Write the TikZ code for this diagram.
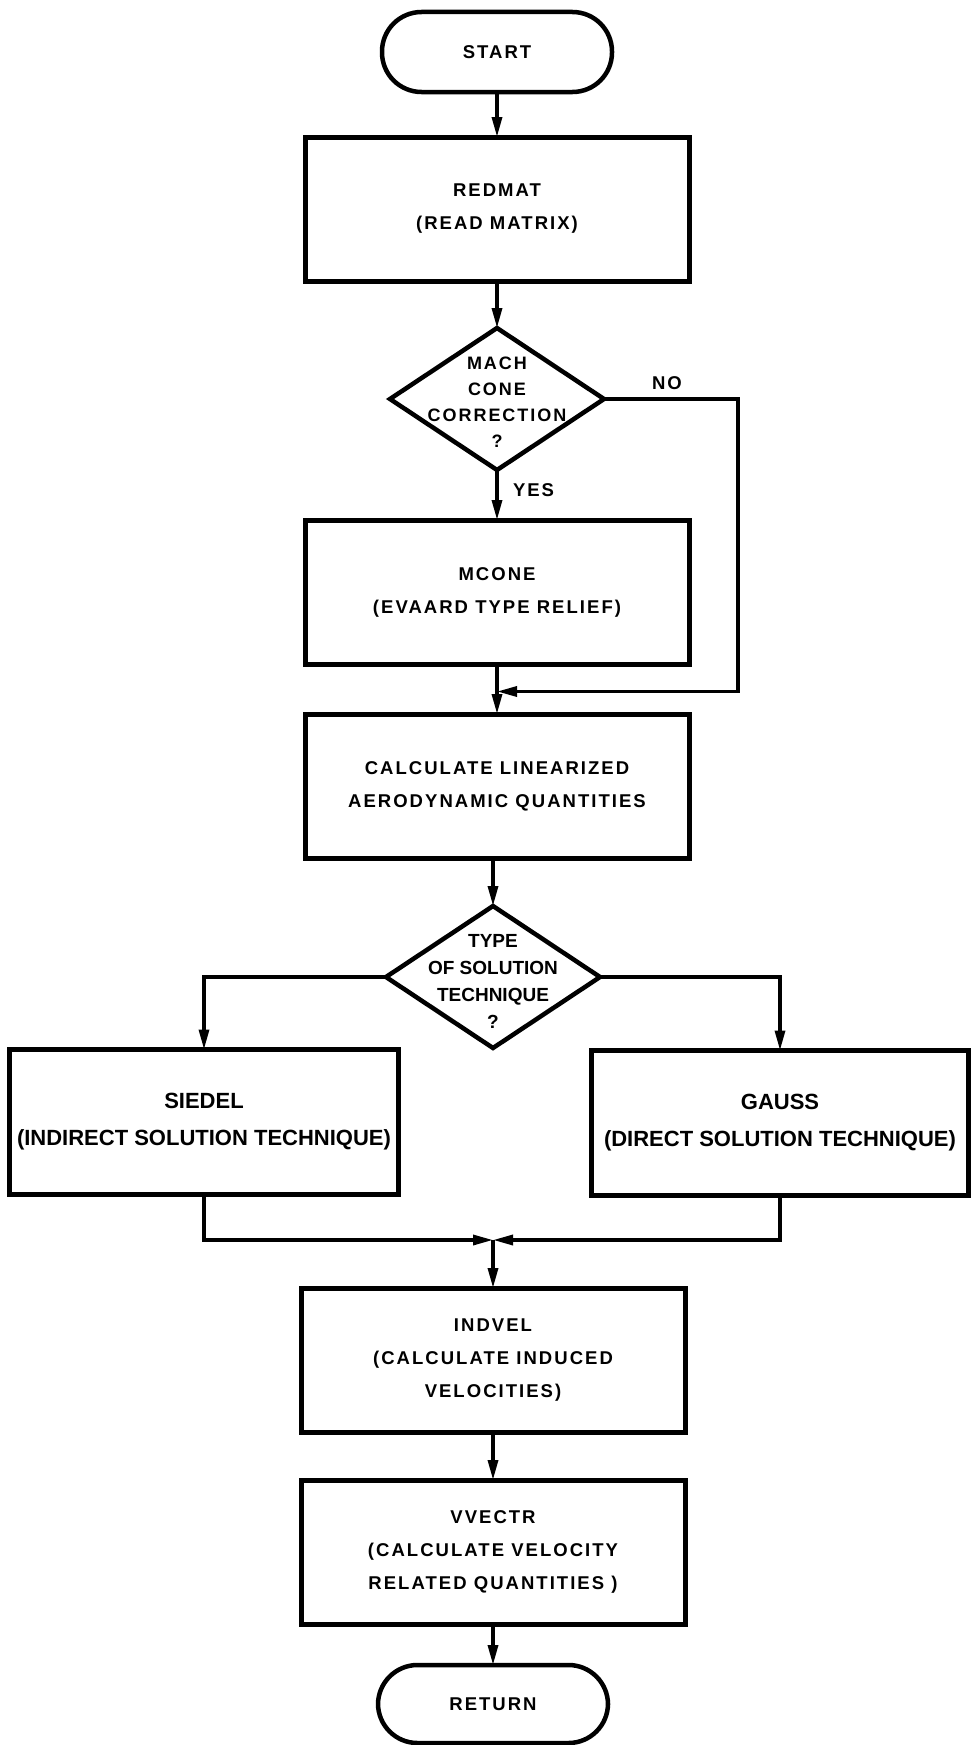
\documentclass[tikz,border=0pt]{standalone}
\usepackage{fontspec}
\setmainfont{Liberation Sans}
\newfontfamily\flowfont{Liberation Sans}[LetterSpace=11]
\usetikzlibrary{shapes.geometric,arrows.meta,calc}

\begin{document}
\begin{tikzpicture}[x=1pt,y=-1pt,
  every node/.style={inner sep=0pt, outer sep=0pt},
  boxtext/.style={font=\flowfont\bfseries\fontsize{18.5}{33}\selectfont, align=center},
  procbox/.style={draw, line width=5pt, minimum width=384pt, minimum height=144pt, boxtext},
  widebox/.style={draw, line width=5pt, minimum height=145pt, align=center,
    font=\bfseries\fontsize{22}{37}\selectfont},
  terminal/.style={draw, line width=4.5pt, rounded corners=39.5pt, minimum width=230pt,
    minimum height=80pt, boxtext},
  decision/.style={draw, diamond, line width=4.5pt, minimum width=214pt, minimum height=142pt},
  dtext/.style={align=center, font=\flowfont\bfseries\fontsize{18}{26}\selectfont},
  dtextnarrow/.style={align=center, font=\bfseries\fontsize{19}{27}\selectfont},
  flow/.style={line width=3.3pt, -{Triangle[length=20pt,width=10pt]}},
  tag/.style={font=\flowfont\bfseries\fontsize{18.5}{22}\selectfont},
]
% page
\fill[white] (0,0) rectangle (971,1745);
\useasboundingbox (0,0) rectangle (971,1745);

% main column
\node[terminal] (start) at (497,52) {START};
\node[procbox] (redmat) at (497,209) {REDMAT\\(READ MATRIX)};
\node[decision] (mach) at (497,399) {};
\node[dtext] (machq) at (497,402) {MACH\\CONE\\CORRECTION\\?};
\node[procbox] (mcone) at (497,592) {MCONE\\(EVAARD TYPE RELIEF)};
\node[procbox] (calc) at (497,786) {CALCULATE LINEARIZED\\AERODYNAMIC QUANTITIES};
\node[decision] (tech) at (493,977) {};
\node[dtextnarrow] (techq) at (493,981) {TYPE\\OF SOLUTION\\TECHNIQUE\\?};
\node[widebox, minimum width=389pt] (siedel) at (204,1122) {SIEDEL\\(INDIRECT SOLUTION TECHNIQUE)};
\node[widebox, minimum width=377pt] (gauss) at (780,1123) {GAUSS\\(DIRECT SOLUTION TECHNIQUE)};
\node[procbox] (indvel) at (493,1360) {INDVEL\\(CALCULATE INDUCED\\VELOCITIES)};
\node[procbox] (vvectr) at (493,1552) {VVECTR\\(CALCULATE VELOCITY\\RELATED QUANTITIES )};
\node[terminal, minimum height=78pt] (return) at (493,1704) {RETURN};

% labels on branches
\node[tag] (no) at (667,383) {NO};
\node[tag, anchor=west] (yes) at (513,490) {YES};

% junction points
\coordinate (nojoin) at ($(mcone.south)!0.55!(calc.north)$);
\coordinate (merge) at (493,1240);

% connectors
\draw[flow] (start) -- (redmat);
\draw[flow] (redmat) -- (mach);
\draw[flow] (mach) -- (mcone);
\draw[flow] (mcone) -- (calc);
\draw[flow] (mach.east) -- ++(134,0) |- (nojoin);
\draw[flow] (tech.north |- calc.south) -- (tech.north);
\draw[flow] (tech.west) -| (siedel.north);
\draw[flow] (tech.east) -| (gauss.north);
\draw[flow] (siedel.south) |- (merge);
\draw[flow] (gauss.south) |- (merge);
\draw[flow] (merge) -- (indvel.north);
\draw[flow] (indvel) -- (vvectr);
\draw[flow] (vvectr) -- (return);
\end{tikzpicture}
\end{document}
